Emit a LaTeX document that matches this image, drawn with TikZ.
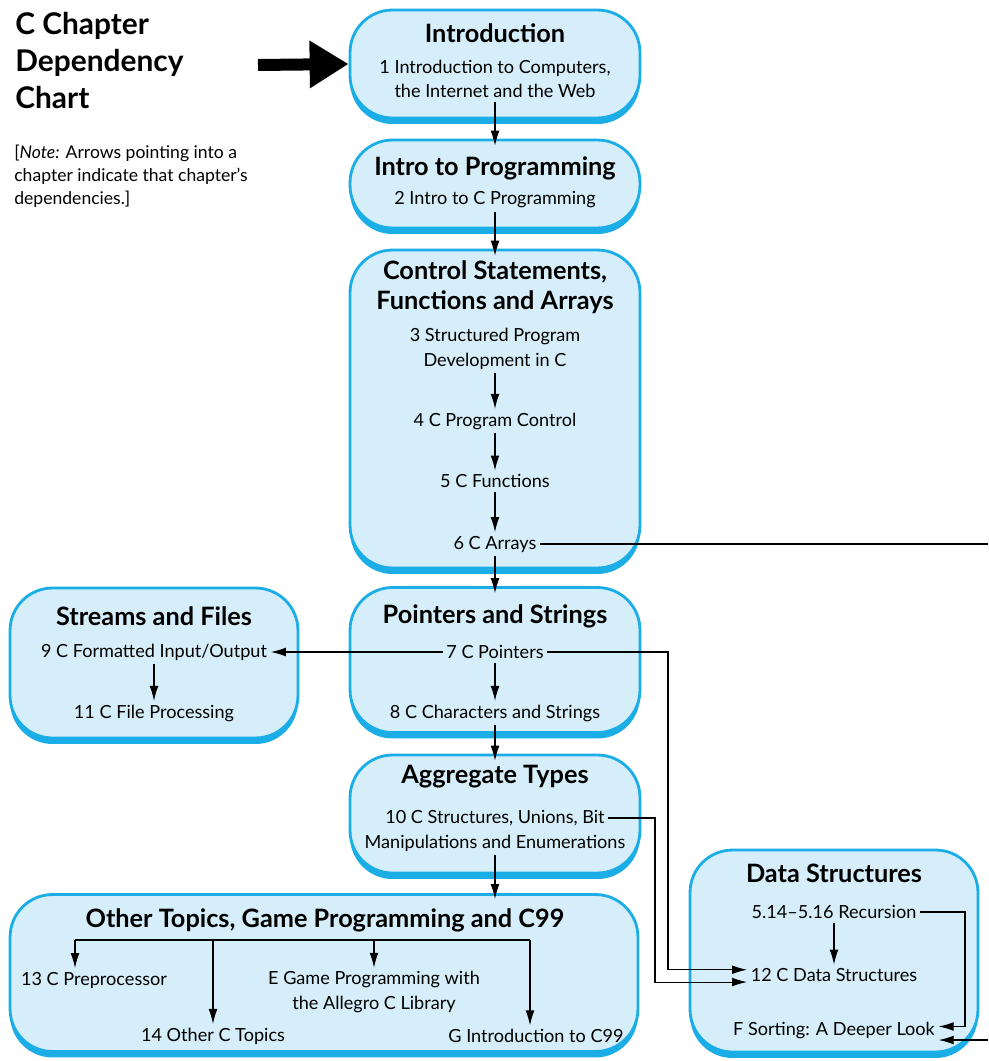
\documentclass[tikz,border=0pt]{standalone}
\usepackage{fontspec}
\setmainfont{Lato}
\usetikzlibrary{arrows.meta,shadows}
\definecolor{chapfill}{HTML}{D5EEFA}
\definecolor{chapline}{HTML}{1AADE6}
\begin{document}
\begin{tikzpicture}[x=0.02cm,y=-0.02cm]
    \tikzstyle{chapbox}=[draw=chapline,fill=chapfill,line width=1.6pt,rounded corners=0.85cm,
        drop shadow={shadow xshift=0cm,shadow yshift=-0.12cm,fill=chapline,opacity=1}]
    \tikzstyle{grouptitle}=[font=\bfseries\fontsize{14.4}{17}\selectfont,align=center,inner sep=1pt]
    \tikzstyle{chapter}=[font=\fontsize{10.3}{13.8}\selectfont,align=center,inner sep=2pt]
    \tikzstyle{dep}=[-{Latex[length=8.5pt,width=5pt]},semithick]
    \useasboundingbox (0,0) rectangle (988,1061);
    \node[font=\bfseries\fontsize{17}{21}\selectfont,align=left,anchor=north west,inner sep=0pt] (chartTitle) at (15,12) {C Chapter\\Dependency\\Chart};
    \node[font=\fontsize{10}{13}\selectfont,align=left,anchor=north west,inner sep=0pt] (chartNote) at (14,145) {[\textit{Note:} Arrows pointing into a\\chapter indicate that chapter's\\dependencies.]};
    \begin{scope}
        \node[chapbox,minimum width=5.8cm,minimum height=2.16cm] (introBox) at (495,64) {};
        \node[grouptitle] (tIntro) at (495,33) {Introduction};
        \node[chapter] (ch1) at (495,79) {1 Introduction to Computers,\\the Internet and the Web};
    \end{scope}
    \begin{scope}
        \node[chapbox,minimum width=5.8cm,minimum height=1.76cm] (progBox) at (495,184) {};
        \node[grouptitle] (tProg) at (495,168) {Intro to Programming};
        \node[chapter] (ch2) at (495,200) {2 Intro to C Programming};
    \end{scope}
    \begin{scope}
        \node[chapbox,minimum width=5.8cm,minimum height=6.36cm] (controlBox) at (495,409) {};
        \node[grouptitle] (tControl) at (495,287) {Control Statements,\\Functions and Arrays};
        \node[chapter] (ch3) at (495,349) {3 Structured Program\\Development in C};
        \node[chapter] (ch4) at (495,421) {4 C Program Control};
        \node[chapter] (ch5) at (495,481) {5 C Functions};
        \node[chapter] (ch6) at (495,544) {6 C Arrays};
    \end{scope}
    \begin{scope}
        \node[chapbox,minimum width=5.8cm,minimum height=2.9cm] (pointersBox) at (495,660) {};
        \node[grouptitle] (tPointers) at (495,616) {Pointers and Strings};
        \node[chapter] (ch7) at (495,652) {7 C Pointers};
        \node[chapter] (ch8) at (495,713) {8 C Characters and Strings};
    \end{scope}
    \begin{scope}
        \node[chapbox,minimum width=5.8cm,minimum height=2.36cm] (aggregateBox) at (495,814) {};
        \node[grouptitle] (tAggregate) at (495,777) {Aggregate Types};
        \node[chapter] (ch10) at (495,818) {10 C Structures, Unions, Bit};
        \node[chapter] (ch10cont) at (495,843) {Manipulations and Enumerations};
    \end{scope}
    \begin{scope}
        \node[chapbox,minimum width=5.76cm,minimum height=3cm] (streamsBox) at (154,663) {};
        \node[grouptitle] (tStreams) at (154,616) {Streams and Files};
        \node[chapter] (ch9) at (154,652) {9 C Formatted Input/Output};
        \node[chapter] (ch11) at (154,713) {11 C File Processing};
    \end{scope}
    \begin{scope}
        \node[chapbox,minimum width=12.56cm,minimum height=3.14cm] (otherBox) at (324,973) {};
        \node[grouptitle] (tOther) at (325,920) {Other Topics, Game Programming and C99};
        \node[chapter] (ch13) at (94,980) {13 C Preprocessor};
        \node[chapter] (ch14) at (213,1036) {14 Other C Topics};
        \node[chapter] (chE) at (374,992) {E Game Programming with\\the Allegro C Library};
        \node[chapter] (chG) at (536,1036) {G Introduction to C99};
        \coordinate (forkL) at (75,940);
        \coordinate (forkR) at (530,940);
        \coordinate (otherIn) at (495,899);
    \end{scope}
    \begin{scope}
        \node[chapbox,minimum width=5.76cm,minimum height=4.04cm] (dataBox) at (834,951) {};
        \node[grouptitle] (tData) at (834,873) {Data Structures};
        \node[chapter] (chRec) at (834,912) {5.14--5.16 Recursion};
        \node[chapter] (ch12) at (834,975) {12 C Data Structures};
        \node[chapter] (chF) at (834,1030) {F Sorting: A Deeper Look};
    \end{scope}
    \coordinate (bigStart) at (258,65);
    \coordinate (arraysOut) at (988,544);
    \coordinate (sortIn) at (988,1040);
    \draw[line width=0.24cm,-{Triangle[length=0.78cm,width=0.9cm]}] (bigStart) -- (introBox.west);
    \draw[dep] (ch1.south) -- ([yshift=-4pt]progBox.north);
    \draw[dep] (ch2.south) -- ([yshift=-4pt]controlBox.north);
    \draw[dep] (ch3.south) -- (ch4.north);
    \draw[dep] (ch4.south) -- (ch5.north);
    \draw[dep] (ch5.south) -- (ch6.north);
    \draw[dep] (ch6.south) -- ([yshift=-4pt]pointersBox.north);
    \draw[semithick] (ch6.east) -- (arraysOut);
    \draw[dep] (ch7.south) -- (ch8.north);
    \draw[dep] (ch8.south) -- ([yshift=-4pt]aggregateBox.north);
    \draw[dep] (ch7.west) -- (ch9.east);
    \draw[dep] (ch9.south) -- (ch11.north);
    \draw[dep] (ch7.east) -- (668,652) |- ([yshift=3pt]ch12.west);
    \draw[dep] (ch10.east) -- (655,818) |- ([yshift=-4pt]ch12.west);
    \draw[dep] (ch10cont.south) -- (otherIn);
    \draw[semithick] (forkL) -- (forkR);
    \draw[dep] (forkL) -- (forkL |- ch13.north);
    \draw[dep] (ch14.north |- forkL) -- (ch14.north);
    \draw[dep] (chE.north |- forkL) -- (chE.north);
    \draw[dep] (forkR) -- (forkR |- chG.north);
    \draw[dep] (chRec.south) -- (ch12.north);
    \draw[dep] (chRec.east) -- (965,912) |- ([yshift=2pt]chF.east);
    \draw[dep] (sortIn) -- (sortIn -| chF.east);
\end{tikzpicture}
\end{document}
